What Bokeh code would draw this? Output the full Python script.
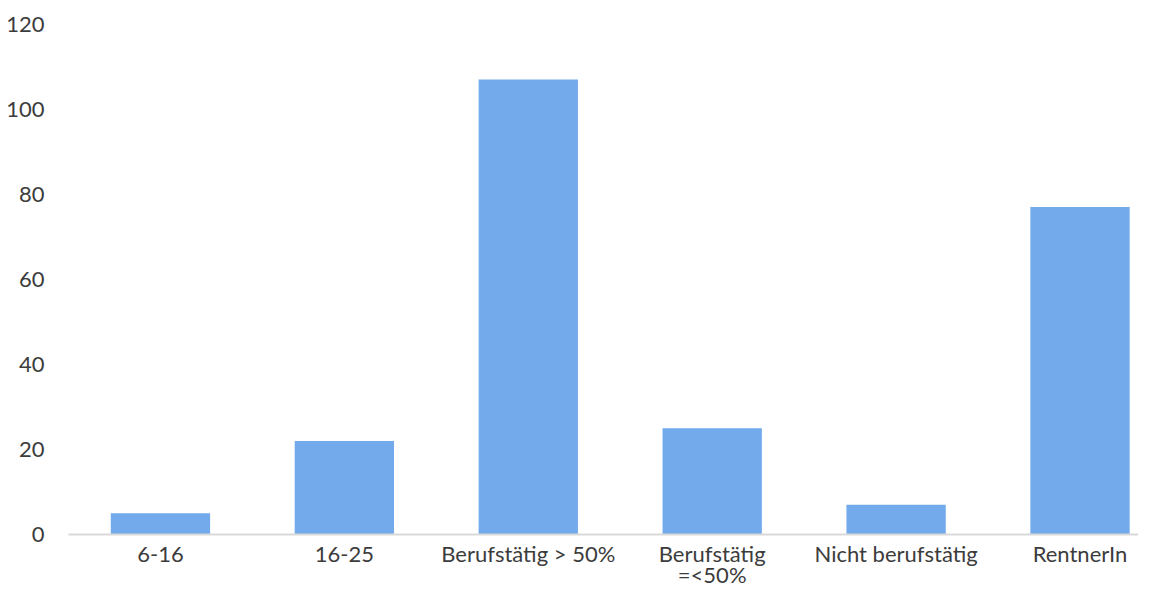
from bokeh.plotting import figure
from bokeh.models import Range1d, FixedTicker, ColumnDataSource
from bokeh.embed import file_html
from bokeh.resources import INLINE

categories = ["6-16", "16-25", "Berufstätig > 50%", "Berufstätig\n=<50%",
              "Nicht berufstätig", "RentnerIn"]
values = [5, 22, 107, 25, 7, 77]
y_ticks = [0, 20, 40, 60, 80, 100, 120]

positions = list(range(len(categories)))
src = ColumnDataSource(dict(x=positions, top=values))

p = figure(width=1138, height=591, output_backend="svg", toolbar_location=None,
           x_range=Range1d(-0.5, 5.318), y_range=Range1d(0, 124.4),
           min_border_left=68, min_border_right=0, min_border_top=5,
           min_border_bottom=55)
p.vbar(x="x", top="top", width=0.54, source=src, color="#73aaec", line_color=None)

p.outline_line_color = None
p.xgrid.visible = False
p.ygrid.visible = False
p.background_fill_color = "white"
p.border_fill_color = "white"

FONT = "Lato"
TXT = "#3c3c3c"

p.yaxis.ticker = FixedTicker(ticks=y_ticks)
p.yaxis.axis_line_color = None
p.yaxis.major_tick_line_color = None
p.yaxis.minor_tick_line_color = None
p.yaxis.major_tick_out = 0
p.yaxis.minor_tick_out = 0
p.yaxis.major_label_standoff = 24
p.yaxis.major_label_text_font = FONT
p.yaxis.major_label_text_font_size = "22px"
p.yaxis.major_label_text_color = TXT

p.xaxis.ticker = FixedTicker(ticks=positions)
p.xaxis.major_label_overrides = {i: c for i, c in zip(positions, categories)}
p.xaxis.axis_line_color = "#d9d9d9"
p.xaxis.axis_line_width = 2
p.xaxis.major_tick_line_color = None
p.xaxis.minor_tick_line_color = None
p.xaxis.major_tick_out = 0
p.xaxis.minor_tick_out = 0
p.xaxis.major_label_standoff = 5
p.xaxis.major_label_text_font = FONT
p.xaxis.major_label_text_font_size = "22px"
p.xaxis.major_label_text_color = TXT
p.xaxis.major_label_text_line_height = 0.8

open("out.html", "w").write(file_html(p, INLINE))
